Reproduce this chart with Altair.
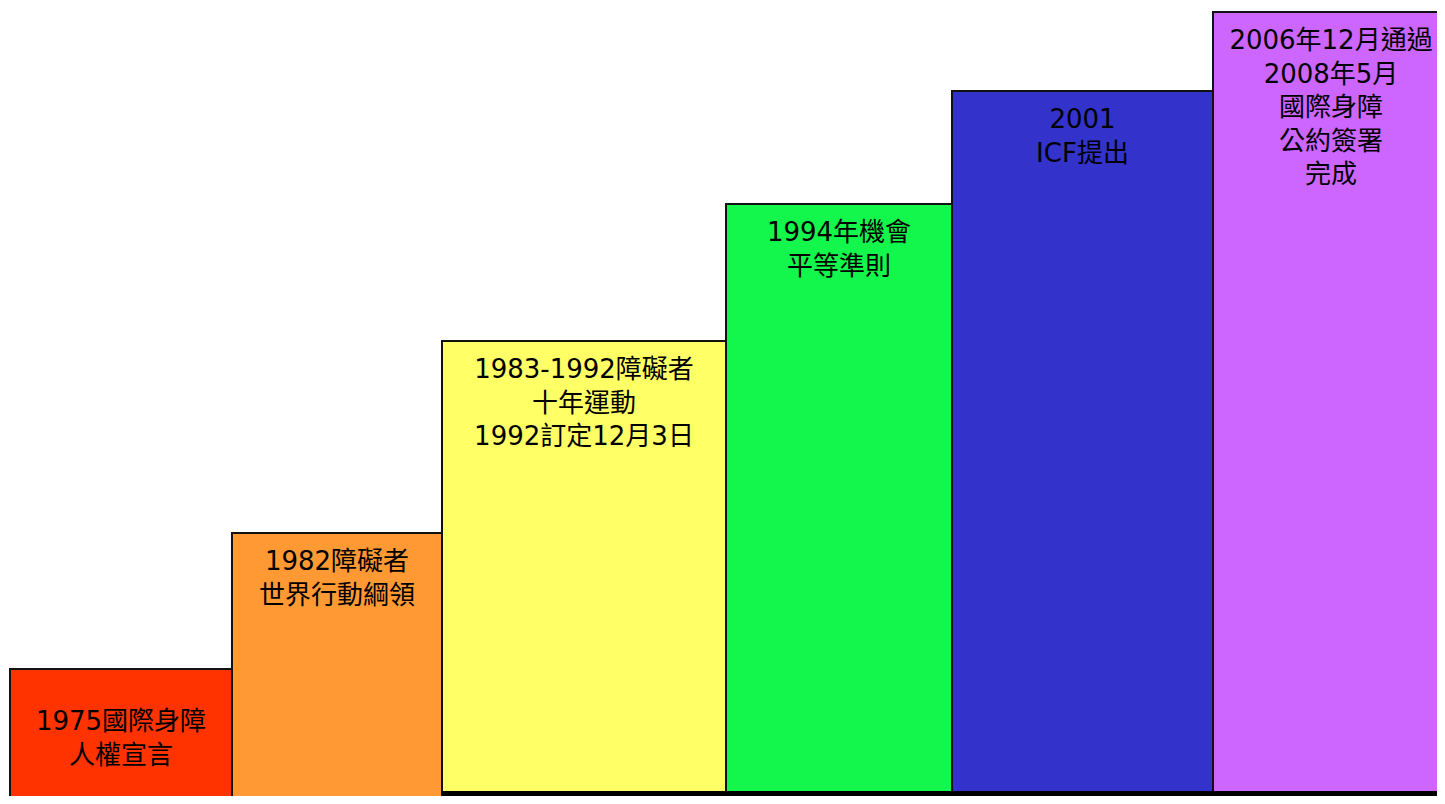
import altair as alt
import pandas as pd

labels = [
    "1975國際身障\n人權宣言",
    "1982障礙者\n世界行動綱領",
    "1983-1992障礙者\n十年運動\n1992訂定12月3日",
    "1994年機會\n平等準則",
    "2001\nICF提出",
    "2006年12月通過\n2008年5月\n國際身障\n公約簽署\n完成",
]
widths = [222, 210, 284, 226, 261, 236]
heights = [122, 258, 450, 587, 700, 779]
colors = ["#FF3300", "#FF9933", "#FFFF66", "#13F64B", "#3333CC", "#CC66FF"]
start = 2

lefts = []
pos = start
for w in widths:
    lefts.append(pos)
    pos += w
rights = [l + w for l, w in zip(lefts, widths)]

df = pd.DataFrame({
    "label": labels,
    "x0": lefts,
    "x1": rights,
    "xm": [(a + b) / 2 for a, b in zip(lefts, rights)],
    "top": heights,
    "base": [-30] * len(labels),
    "color": colors,
    "idx": list(range(len(labels))),
})

band = pd.DataFrame({"x0": [lefts[2]], "x1": [1500], "y0": [-12], "y1": [0]})

W, H = 1429, 788
xs = alt.Scale(domain=[0, W], nice=False, zero=False)
ys = alt.Scale(domain=[-5, H - 5], nice=False, zero=False)

bars = alt.Chart(df).mark_rect(stroke="#111111", strokeWidth=2, clip=True).encode(
    x=alt.X("x0:Q", scale=xs, axis=None),
    x2="x1:Q",
    y=alt.Y("base:Q", scale=ys, axis=None),
    y2="top:Q",
    color=alt.Color("color:N", scale=None),
)

base_band = alt.Chart(band).mark_rect(color="#000000", clip=True).encode(
    x=alt.X("x0:Q", scale=xs, axis=None),
    x2="x1:Q",
    y=alt.Y("y0:Q", scale=ys, axis=None),
    y2="y1:Q",
)

text_common = dict(
    font="DejaVu Sans, Noto Sans CJK TC",
    fontSize=26,
    lineHeight=33.5,
    lineBreak="\n",
    align="center",
    baseline="top",
    color="#000000",
)

texts = alt.Chart(df).transform_filter("datum.idx > 0").mark_text(dy=16, **text_common).encode(
    x=alt.X("xm:Q", scale=xs, axis=None),
    y=alt.Y("top:Q", scale=ys, axis=None),
    text="label:N",
)

text_first = alt.Chart(df).transform_filter("datum.idx == 0").mark_text(dy=40, **text_common).encode(
    x=alt.X("xm:Q", scale=xs, axis=None),
    y=alt.Y("top:Q", scale=ys, axis=None),
    text="label:N",
)

chart = alt.layer(bars, base_band, texts, text_first).properties(
    width=W,
    height=H,
    autosize=alt.AutoSizeParams(type="none"),
    padding=0,
).configure_view(stroke=None)

chart.save("out.html", embed_options={"renderer": "svg", "actions": False})
